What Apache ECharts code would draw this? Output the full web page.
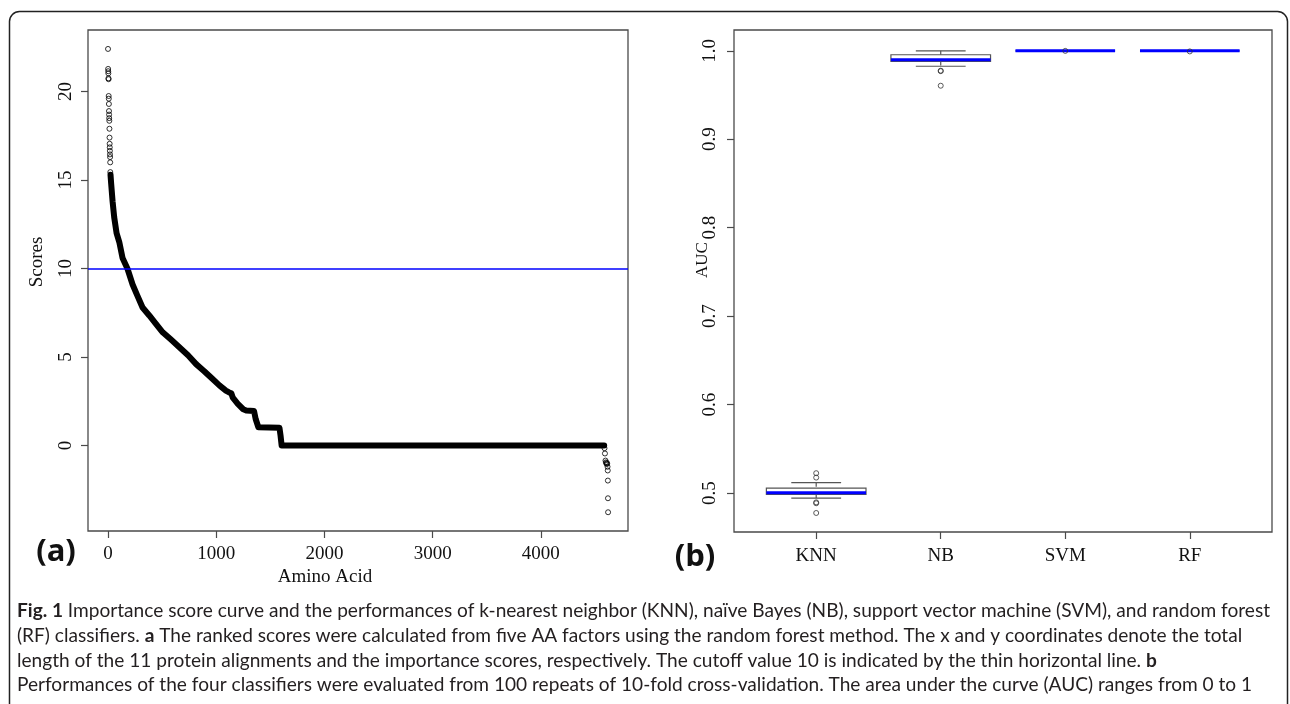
<!DOCTYPE html>
<html>
<head>
<meta charset="utf-8">
<script src="https://cdn.jsdelivr.net/npm/echarts@6/dist/echarts.min.js"></script>
<style>
html,body{margin:0;padding:0;background:#fff;}
#c{width:1290px;height:704px;}
</style>
</head>
<body>
<div id="c"></div>
<script>
// ---- Panel (a): ranked importance scores along the alignment ----
// isolated high scores at the head of the ranking
const sparseRank  = [1, 2, 3, 4, 5, 6, 7, 8, 9, 10, 11, 12, 13, 14, 15, 16, 17, 18, 19, 20, 21, 22];
const sparseScore = [22.41, 21.28, 21.15, 21.03, 20.75, 20.7, 19.75, 19.6, 19.3, 18.9, 18.7, 18.5,
                     18.35, 17.9, 17.4, 17.05, 16.85, 16.65, 16.45, 16.3, 16.0, 15.45];
// dense body of the ranked curve
const curveRank  = [24, 30, 43, 58, 80, 105, 135, 180, 228, 270, 320, 382, 440, 506, 580, 660, 740,
                    815, 890, 960, 1030, 1090, 1120, 1140, 1154, 1200, 1250, 1278, 1350, 1365, 1390,
                    1585, 1595, 1605, 4585];
const curveScore = [15.3, 14.8, 13.8, 12.9, 12.0, 11.5, 10.6, 10.0, 9.1, 8.5, 7.8, 7.35, 6.9, 6.4, 6.0,
                    5.55, 5.1, 4.6, 4.2, 3.8, 3.4, 3.1, 3.0, 2.95, 2.7, 2.35, 2.05, 1.98, 1.95, 1.5, 1.03,
                    1.0, 0.56, 0, 0];
// negative scores at the end of the ranking
const tailRank  = [4588, 4592, 4597, 4601, 4605, 4609, 4613, 4616, 4618, 4619, 4620, 4621];
const tailScore = [-0.15, -0.45, -0.85, -0.95, -1.0, -1.05, -1.0, -1.2, -1.41, -1.98, -2.98, -3.77];
const cutoff = 10;
const scoreTicks = [0, 5, 10, 15, 20];
const rankTicks = [0, 1000, 2000, 3000, 4000];

// ---- Panel (b): AUC of the four classifiers ----
const classifiers = ['KNN', 'NB', 'SVM', 'RF'];
const aucLow    = [0.4944, 0.9825, 1.0, 1.0];
const aucQ1     = [0.4985, 0.9880, 1.0, 1.0];
const aucMedian = [0.5005, 0.9898, 1.0, 1.0];
const aucQ3     = [0.5055, 0.9955, 1.0, 1.0];
const aucHigh   = [0.5118, 1.0, 1.0, 1.0];
const aucOutliers = [
  [0.5225, 0.5175, 0.4895, 0.4885, 0.4775],
  [0.9775, 0.9770, 0.9605],
  [0.9999],
  [0.9993]
];
const aucTicks = [0.5, 0.6, 0.7, 0.8, 0.9, 1.0];

// ---- Caption ----
const captionLines = [
  [['b', 'Fig. 1'], ['r', ' Importance score curve and the performances of k-nearest neighbor (KNN), naïve Bayes (NB), support vector machine (SVM), and random forest']],
  [['r', '(RF) classifiers. '], ['b', 'a'], ['r', ' The ranked scores were calculated from five AA factors using the random forest method. The x and y coordinates denote the total']],
  [['r', 'length of the 11 protein alignments and the importance scores, respectively. The cutoff value 10 is indicated by the thin horizontal line. '], ['b', 'b']],
  [['r', 'Performances of the four classifiers were evaluated from 100 repeats of 10-fold cross-validation. The area under the curve (AUC) ranges from 0 to 1']]
];

const SERIF = 'Liberation Serif';
const CAP_FONT = 'Lato';
const frameColor = '#4a4a4a';
const boxColor = '#555';

function captionSize() {
  const ctx = document.createElement('canvas').getContext('2d');
  const base = 16;
  let w = 0;
  captionLines[0].forEach(([k, t]) => {
    ctx.font = (k === 'b' ? 'bold ' : '') + base + 'px ' + CAP_FONT;
    w += ctx.measureText(t).width;
  });
  return base * 1254 / w;
}
const capSize = captionSize();

const zip = (a, b) => a.map((v, i) => [v, b[i]]);

const tickStyle = { show: true, inside: false, length: 7, lineStyle: { color: frameColor, width: 1.2 } };
const labelFont = { fontFamily: SERIF, fontSize: 19, color: '#111' };

const chart = echarts.init(document.getElementById('c'), null, { renderer: 'canvas' });

const graphics = [
  // outer figure frame
  { type: 'rect', shape: { x: 9.5, y: 11.5, width: 1278, height: 740, r: 10 },
    style: { fill: 'none', stroke: '#222', lineWidth: 1.5 }, z: 0 },
  { type: 'text', x: 325, y: 577, style: { text: 'Amino Acid', fontFamily: SERIF, fontSize: 19, fill: '#111', align: 'center', verticalAlign: 'middle' } },
  { type: 'text', x: 37, y: 262, rotation: Math.PI / 2, style: { text: 'Scores', fontFamily: SERIF, fontSize: 19, fill: '#111', align: 'center', verticalAlign: 'middle' } },
  { type: 'text', x: 703, y: 260, rotation: Math.PI / 2, style: { text: 'AUC', fontFamily: SERIF, fontSize: 17, fill: '#111', align: 'center', verticalAlign: 'middle' } },
  { type: 'text', x: 56, y: 552, style: { text: '(a)', fontFamily: 'Open Sans', fontWeight: 'bold', fontSize: 31, fill: '#111', align: 'center', verticalAlign: 'middle' } },
  { type: 'text', x: 695, y: 557, style: { text: '(b)', fontFamily: 'Open Sans', fontWeight: 'bold', fontSize: 31, fill: '#111', align: 'center', verticalAlign: 'middle' } }
];
const lineY = [611, 636, 661, 685];
captionLines.forEach((parts, i) => {
  graphics.push({
    type: 'text', x: 17, y: lineY[i],
    style: {
      text: parts.map(([k, t]) => '{' + k + '|' + t + '}').join(''),
      rich: {
        b: { fontFamily: CAP_FONT, fontSize: capSize, fontWeight: 'bold', fill: '#231f20' },
        r: { fontFamily: CAP_FONT, fontSize: capSize, fill: '#231f20' }
      },
      verticalAlign: 'middle', align: 'left'
    }
  });
});

const outlierPts = [];
aucOutliers.forEach((arr, i) => arr.forEach(v => outlierPts.push([i + 1, v])));

// box-and-whisker glyph: box width 0.8 category units, caps half as wide, blue median
function renderBox(params, api) {
  const x = api.value(0);
  const low = api.coord([x, api.value(1)]);
  const q1 = api.coord([x, api.value(2)]);
  const med = api.coord([x, api.value(3)]);
  const q3 = api.coord([x, api.value(4)]);
  const high = api.coord([x, api.value(5)]);
  const boxW = api.size([0.8, 0])[0];
  const capW = boxW * 0.5;
  const cx = med[0];
  const ls = { stroke: boxColor, lineWidth: 1.2, fill: null };
  return {
    type: 'group',
    children: [
      { type: 'line', shape: { x1: cx, y1: high[1], x2: cx, y2: q3[1] }, style: Object.assign({ lineDash: [4, 3] }, ls) },
      { type: 'line', shape: { x1: cx, y1: q1[1], x2: cx, y2: low[1] }, style: Object.assign({ lineDash: [4, 3] }, ls) },
      { type: 'line', shape: { x1: cx - capW / 2, y1: high[1], x2: cx + capW / 2, y2: high[1] }, style: ls },
      { type: 'line', shape: { x1: cx - capW / 2, y1: low[1], x2: cx + capW / 2, y2: low[1] }, style: ls },
      { type: 'rect', shape: { x: cx - boxW / 2, y: q3[1], width: boxW, height: q1[1] - q3[1] },
        style: { fill: '#fff', stroke: boxColor, lineWidth: 1.2 } },
      { type: 'line', shape: { x1: cx - boxW / 2, y1: med[1], x2: cx + boxW / 2, y2: med[1] },
        style: { stroke: '#0000ff', lineWidth: 3 } }
    ]
  };
}

const option = {
  animation: false,
  backgroundColor: '#fff',
  grid: [
    { left: 88, top: 30, width: 540, height: 501, show: true, borderColor: frameColor, borderWidth: 1.3, backgroundColor: 'transparent' },
    { left: 734, top: 30, width: 538, height: 502, show: true, borderColor: frameColor, borderWidth: 1.3, backgroundColor: 'transparent' }
  ],
  xAxis: [
    { type: 'value', gridIndex: 0, min: -184, max: 4805,
      axisLine: { show: false, onZero: false }, splitLine: { show: false },
      axisTick: Object.assign({ customValues: rankTicks }, tickStyle),
      axisLabel: Object.assign({ customValues: rankTicks, margin: 14, formatter: v => String(v) }, labelFont) },
    { type: 'value', gridIndex: 1, min: 0.34, max: 4.66,
      axisLine: { show: false, onZero: false }, splitLine: { show: false },
      axisTick: Object.assign({ customValues: [1, 2, 3, 4] }, tickStyle),
      axisLabel: Object.assign({ customValues: [1, 2, 3, 4], margin: 15,
        formatter: v => classifiers[Math.round(v) - 1] }, labelFont) }
  ],
  yAxis: [
    { type: 'value', gridIndex: 0, min: -4.83, max: 23.48,
      axisLine: { show: false, onZero: false }, splitLine: { show: false },
      axisTick: Object.assign({ customValues: scoreTicks }, tickStyle),
      axisLabel: Object.assign({ customValues: scoreTicks, rotate: 90, margin: 12, formatter: v => String(v) }, labelFont) },
    { type: 'value', gridIndex: 1, min: 0.456, max: 1.0235,
      axisLine: { show: false, onZero: false }, splitLine: { show: false },
      axisTick: Object.assign({ customValues: aucTicks }, tickStyle),
      axisLabel: Object.assign({ customValues: aucTicks, rotate: 90, margin: 14,
        formatter: v => v.toFixed(1) }, labelFont) }
  ],
  series: [
    { type: 'line', xAxisIndex: 0, yAxisIndex: 0, data: zip(curveRank, curveScore),
      showSymbol: false, symbol: 'none', silent: true,
      lineStyle: { color: '#000', width: 6, cap: 'round', join: 'round' },
      markLine: { silent: true, symbol: 'none', label: { show: false },
        lineStyle: { color: '#0000ff', width: 1.5, type: 'solid' },
        data: [{ yAxis: cutoff }] } },
    { type: 'scatter', xAxisIndex: 0, yAxisIndex: 0, data: zip(sparseRank, sparseScore).concat(zip(tailRank, tailScore)),
      symbol: 'circle', symbolSize: 5, silent: true,
      itemStyle: { color: 'rgba(255,255,255,0)', borderColor: '#000', borderWidth: 1 } },
    { type: 'custom', xAxisIndex: 1, yAxisIndex: 1, silent: true, renderItem: renderBox,
      encode: { x: 0, y: [1, 2, 3, 4, 5] },
      data: classifiers.map((c, i) => [i + 1, aucLow[i], aucQ1[i], aucMedian[i], aucQ3[i], aucHigh[i]]) },
    { type: 'scatter', xAxisIndex: 1, yAxisIndex: 1, data: outlierPts, z: 3,
      symbol: 'circle', symbolSize: 5, silent: true,
      itemStyle: { color: 'rgba(255,255,255,0)', borderColor: '#333', borderWidth: 1 } }
  ],
  graphic: graphics
};
chart.setOption(option);
</script>
</body>
</html>
